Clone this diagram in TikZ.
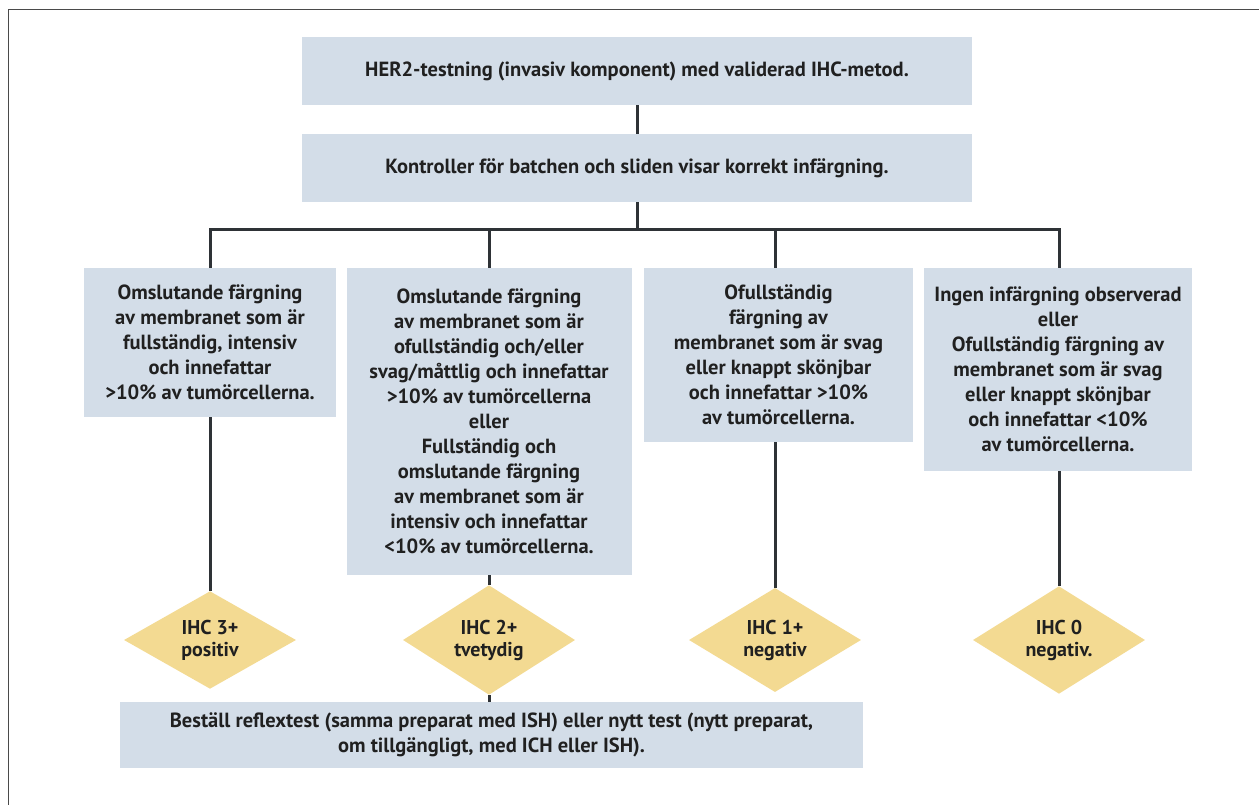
\documentclass[tikz,border=0pt]{standalone}
\usepackage{fontspec}
\setmainfont{PT Sans}
\usetikzlibrary{shapes.geometric}
\definecolor{boxfill}{HTML}{D3DDE8}
\definecolor{diafill}{HTML}{F3DA92}
\definecolor{linec}{HTML}{2E3236}
\definecolor{framec}{HTML}{4A4A4A}
\definecolor{txtc}{HTML}{202020}
\begin{document}
\begin{tikzpicture}[x=1pt,y=-1pt,
  box/.style={fill=boxfill, draw=none, align=center, inner sep=0pt, text=txtc,
    font=\fontsize{20.5}{25}\selectfont\bfseries},
  dia/.style={shape=diamond, fill=diafill, draw=none, inner sep=0pt, text=txtc,
    minimum width=172pt, minimum height=88pt, align=center,
    font=\fontsize{20}{22}\selectfont\bfseries},
  conn/.style={draw=linec, line width=3pt},
]
\useasboundingbox (0,0) rectangle (1259,805);
\draw[framec, line width=1.5pt] (1259,9.5) -- (8.5,9.5) -- (8.5,805);

\node[box, minimum width=670pt, minimum height=68pt] (top) at (637,71)
  {HER2-testning (invasiv komponent) med validerad IHC-metod.};
\node[box, minimum width=670pt, minimum height=68pt] (ctrl) at (637,168)
  {Kontroller för batchen och sliden visar korrekt infärgning.};

\node[box, minimum width=252pt, minimum height=149pt] (b1) at (210,342.5)
  {Omslutande färgning\\av membranet som är\\fullständig, intensiv\\och innefattar\\>10\% av tumörcellerna.};
\node[box, minimum width=285pt, minimum height=307pt] (b2) at (489,421.5)
  {Omslutande färgning\\av membranet som är\\ofullständig och/eller\\svag/måttlig och innefattar\\>10\% av tumörcellerna\\eller\\Fullständig och\\omslutande färgning\\av membranet som är\\intensiv och innefattar\\<10\% av tumörcellerna.};
\node[box, minimum width=269pt, minimum height=174pt] (b3) at (778.5,355)
  {Ofullständig\\färgning av\\membranet som är svag\\eller knappt skönjbar\\och innefattar >10\%\\av tumörcellerna.};
\node[box, minimum width=268pt, minimum height=203pt] (b4) at (1058,369.5)
  {Ingen infärgning observerad\\eller\\Ofullständig färgning av\\membranet som är svag\\eller knappt skönjbar\\och innefattar <10\%\\av tumörcellerna.};

\node[dia] (d1) at (210,640) {IHC 3+\\positiv};
\node[dia] (d2) at (489,640) {IHC 2+\\tvetydig};
\node[dia] (d3) at (775,640) {IHC 1+\\negativ};
\node[dia] (d4) at (1059,640) {IHC 0\\negativ.};

\node[box, minimum width=743pt, minimum height=66pt] (bot) at (491.5,735)
  {Beställ reflextest (samma preparat med ISH) eller nytt test (nytt preparat,\\om tillgängligt, med ICH eller ISH).};

\coordinate (hub) at (637,230);
\draw[conn] (top.south) -- (ctrl.north);
\draw[conn] (ctrl.south) -- (hub);
\draw[conn] (d1.north |- b1.north) |- (hub) -| (d4.north |- b4.north);
\draw[conn] (hub) -| (b2.north);
\draw[conn] (hub) -| (d3.north |- b3.north);
\draw[conn] (d1.north |- b1.south) -- (d1.north);
\draw[conn] (b2.south) -- (d2.north);
\draw[conn] (d3.north |- b3.south) -- (d3.north);
\draw[conn] (d4.north |- b4.south) -- (d4.north);
\draw[conn] (d2.south) -- (bot.north -| d2.south);
\end{tikzpicture}
\end{document}
